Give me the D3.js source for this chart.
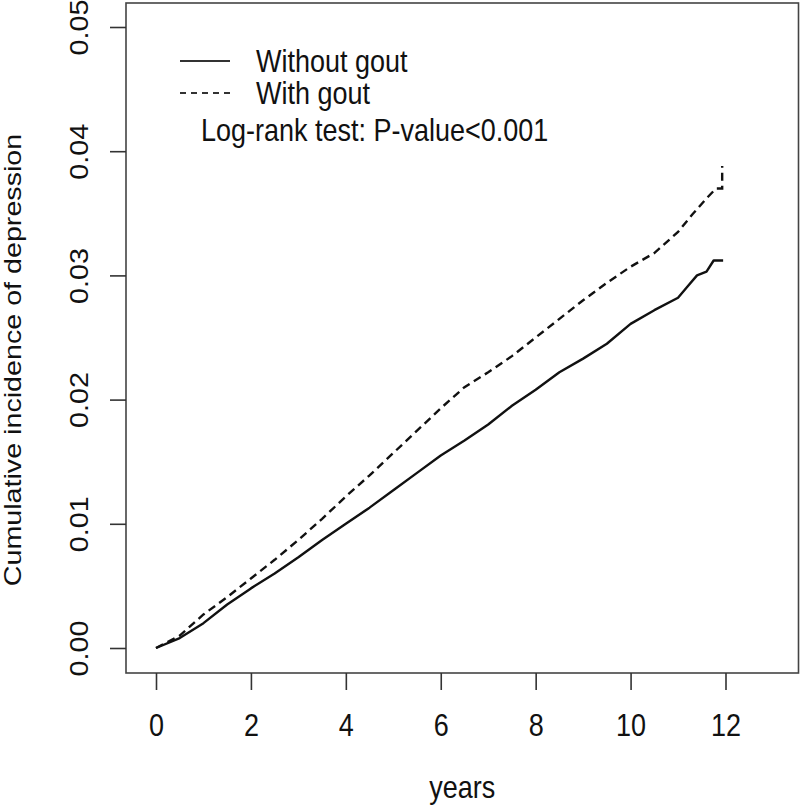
<!DOCTYPE html>
<html>
<head>
<meta charset="utf-8">
<script src="https://cdn.jsdelivr.net/npm/d3@7"></script>
<style>
  html, body { margin: 0; padding: 0; background: #fff; }
  svg { display: block; }
  text { font-family: "Liberation Sans", Arial, sans-serif; fill: #111; }
</style>
</head>
<body>
<svg id="chart" width="800" height="805"></svg>
<script>
// ---- data ----
const seriesNames = ["Without gout", "With gout"];
const withoutGoutYears = [0, 0.5, 1.0, 1.5, 2.0, 2.5, 3.0, 3.5, 4.0, 4.5, 5.0, 5.5, 6.0, 6.5, 7.0, 7.5, 8.0, 8.5, 9.0, 9.5, 10.0, 10.5, 11.0, 11.2, 11.4, 11.6, 11.75, 11.95];
const withoutGoutValues = [0, 0.0008, 0.0020, 0.0035, 0.0048, 0.0060, 0.0073, 0.0087, 0.0100, 0.0113, 0.0127, 0.0141, 0.0155, 0.0167, 0.0180, 0.0195, 0.0208, 0.0222, 0.0233, 0.0245, 0.0261, 0.0272, 0.0282, 0.0291, 0.0300, 0.0303, 0.0312, 0.0312];
const withGoutYears = [0, 0.5, 1.0, 1.5, 2.0, 2.5, 3.0, 3.5, 4.0, 4.5, 5.0, 5.5, 6.0, 6.5, 7.0, 7.5, 8.0, 8.5, 9.0, 9.5, 10.0, 10.5, 11.0, 11.3, 11.6, 11.8, 11.93, 11.93];
const withGoutValues = [0, 0.0010, 0.0027, 0.0041, 0.0056, 0.0071, 0.0087, 0.0104, 0.0122, 0.0139, 0.0157, 0.0175, 0.0193, 0.0210, 0.0222, 0.0235, 0.0250, 0.0265, 0.0280, 0.0294, 0.0307, 0.0318, 0.0335, 0.0349, 0.0362, 0.0370, 0.0370, 0.0388];
const xTicks = [0, 2, 4, 6, 8, 10, 12];
const yTicks = [0.00, 0.01, 0.02, 0.03, 0.04, 0.05];
const yTickLabels = ["0.00", "0.01", "0.02", "0.03", "0.04", "0.05"];
const xTitle = "years";
const yTitle = "Cumulative incidence of depression";
const annotation = "Log-rank test: P-value<0.001";

// ---- layout ----
const svg = d3.select("#chart");
const box = { left: 126, right: 798.5, top: 3, bottom: 673 };
const x = d3.scaleLinear().domain([0, 12]).range([156, 725.5]);
const y = d3.scaleLinear().domain([0, 0.05]).range([648, 27]);
const FS = 27, SY = 1.15;

// plot box
svg.append("rect")
  .attr("x", box.left).attr("y", box.top)
  .attr("width", box.right - box.left).attr("height", box.bottom - box.top)
  .attr("fill", "none").attr("stroke", "#444").attr("stroke-width", 1.6);

// x axis
const xAxis = svg.append("g").attr("transform", `translate(0,${box.bottom})`)
  .call(d3.axisBottom(x).tickValues(xTicks).tickSize(17).tickFormat(d3.format("d")));
xAxis.select(".domain").remove();
xAxis.selectAll(".tick line").attr("stroke", "#333").attr("stroke-width", 1.6);
xAxis.selectAll(".tick text")
  .attr("y", 0).attr("dy", null)
  .attr("font-size", FS).attr("fill", "#111")
  .attr("transform", `translate(0,63) scale(1,${SY})`);

// y axis
const yAxis = svg.append("g").attr("transform", `translate(${box.left},0)`)
  .call(d3.axisLeft(y).tickValues(yTicks).tickSize(16).tickFormat((d, i) => yTickLabels[i]));
yAxis.select(".domain").remove();
yAxis.selectAll(".tick line").attr("stroke", "#333").attr("stroke-width", 1.6);
yAxis.selectAll(".tick text")
  .attr("x", null).attr("dy", null).attr("y", null)
  .attr("font-size", 25).attr("fill", "#111")
  .attr("text-anchor", "middle")
  .attr("transform", `translate(${88 - box.left},0) rotate(-90) scale(${SY},1)`);

// axis titles
svg.append("text")
  .attr("text-anchor", "middle").attr("font-size", FS)
  .attr("transform", `translate(${(box.left + box.right) / 2},798) scale(1,${SY})`)
  .text(xTitle);
svg.append("text")
  .attr("text-anchor", "middle").attr("font-size", 23.5)
  .attr("transform", `translate(21,360) rotate(-90) scale(1.22,1)`)
  .text(yTitle);

// curves
const line = d3.line().x(d => x(d[0])).y(d => y(d[1]));
const dataWithout = withoutGoutYears.map((t, i) => [t, withoutGoutValues[i]]);
const dataWith = withGoutYears.map((t, i) => [t, withGoutValues[i]]);
svg.append("path").datum(dataWithout)
  .attr("d", line).attr("fill", "none").attr("stroke", "#111").attr("stroke-width", 2.4)
  .attr("stroke-linejoin", "round");
svg.append("path").datum(dataWith)
  .attr("d", line).attr("fill", "none").attr("stroke", "#111").attr("stroke-width", 2.4)
  .attr("stroke-dasharray", "8,5");

// legend
const legend = svg.append("g");
const legendRows = [
  { name: seriesNames[0], dash: null, ly: 61, ty: 72 },
  { name: seriesNames[1], dash: "6,5", ly: 93, ty: 104 }
];
legendRows.forEach(r => {
  legend.append("line").attr("x1", 180).attr("x2", 230).attr("y1", r.ly).attr("y2", r.ly)
    .attr("stroke", "#333").attr("stroke-width", 1.8)
    .attr("stroke-dasharray", r.dash);
  legend.append("text").attr("font-size", FS)
    .attr("transform", `translate(256,${r.ty}) scale(1,${SY})`)
    .text(r.name);
});
legend.append("text").attr("font-size", FS)
  .attr("transform", `translate(201,141) scale(1,${SY})`)
  .text(annotation);
</script>
</body>
</html>
